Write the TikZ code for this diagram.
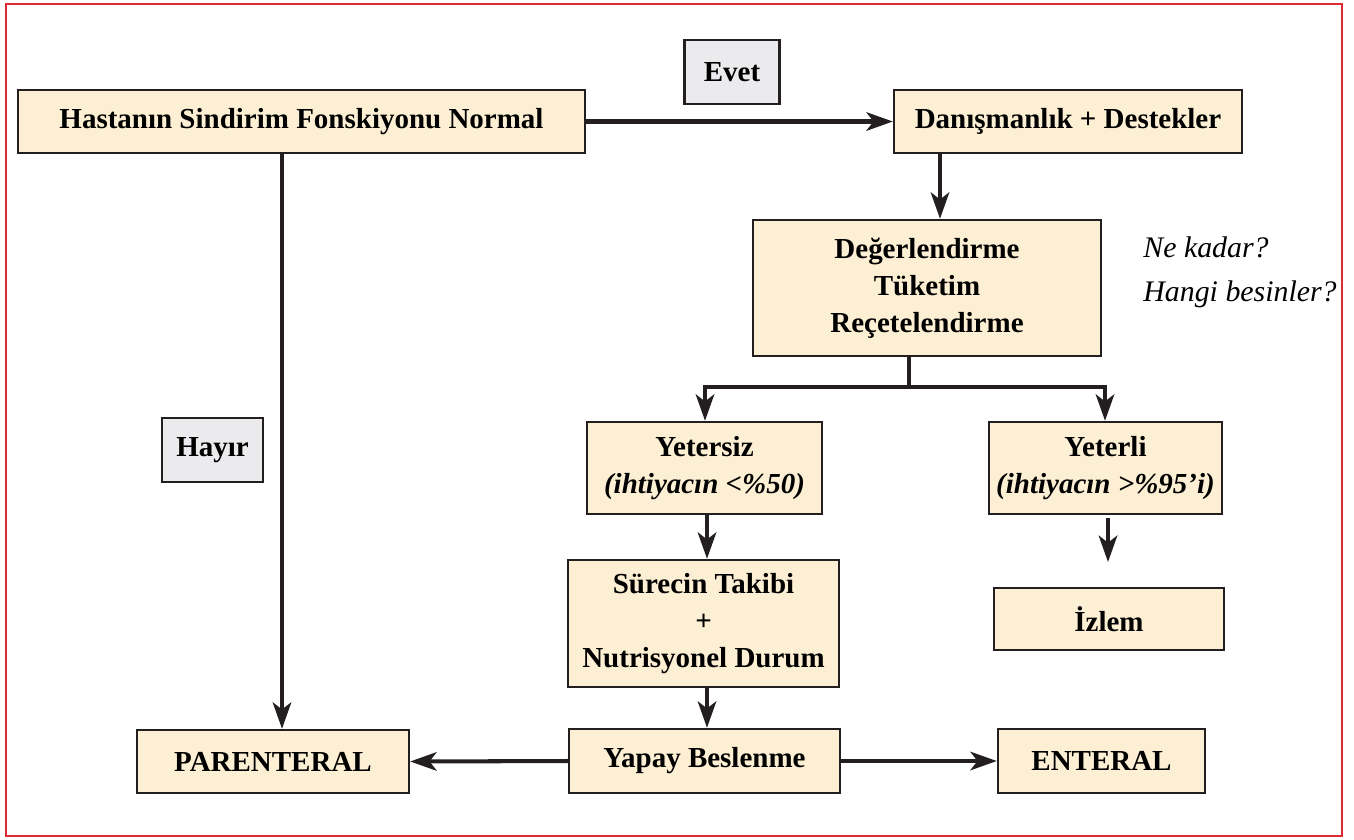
\documentclass[tikz,border=0pt]{standalone}
\usepackage{fontspec}
\setmainfont{Liberation Serif}
\usepackage{tikz}
\usetikzlibrary{arrows.meta}

\definecolor{boxfill}{HTML}{FDEFD3}
\definecolor{tagfill}{HTML}{EBEBEE}
\definecolor{framered}{HTML}{DE2B36}
\definecolor{ink}{HTML}{231F20}

\begin{document}
\begin{tikzpicture}[x=0.02cm, y=-0.02cm,
    box/.style={draw=ink, line width=1.4pt, fill=boxfill, align=center,
      inner sep=0pt, font=\fontsize{16.5}{21}\selectfont\bfseries},
    tag/.style={box, fill=tagfill},
    arr/.style={draw=ink, line width=2.3pt, -{Stealth[length=15pt, width=10.5pt, inset=4pt]}},
    lne/.style={draw=ink, line width=2.3pt}]
          \useasboundingbox (0,0) rectangle (1354,839);
          \draw[framered, line width=1.3pt] (6,4) rectangle (1342,836);

          \node[box, minimum width=11.34cm, minimum height=1.26cm] (normal) at (301.5,121.5) {Hastanın Sindirim Fonskiyonu Normal};
          \node[tag, minimum width=1.9cm, minimum height=1.28cm] (evet) at (732,72) {Evet};
          \node[box, minimum width=6.96cm, minimum height=1.26cm] (destek) at (1068,121.5) {Danışmanlık + Destekler};
          \node[box, minimum width=6.96cm, minimum height=2.72cm] (deger) at (927,288) {Değerlendirme\\Tüketim\\Reçetelendirme};
          \node[align=left, anchor=north west, inner sep=0pt,
            font=\fontsize{17}{25}\selectfont\itshape] (soru) at (1143,236) {Ne kadar?\\Hangi besinler?};
          \node[box, minimum width=4.7cm, minimum height=1.84cm] (yetersiz) at (704.5,468) {Yetersiz\\\textit{(ihtiyacın <\%50)}};
          \node[box, minimum width=4.66cm, minimum height=1.84cm] (yeterli) at (1105.5,468) {Yeterli\\\textit{(ihtiyacın >\%95\char"27 i)}};
          \node[box, minimum width=5.42cm, minimum height=2.54cm] (surec) at (703.5,623.5) {Sürecin Takibi\\+\\Nutrisyonel Durum};
          \node[box, minimum width=4.6cm, minimum height=1.24cm] (izlem) at (1109,619) {İzlem};
          \node[tag, minimum width=2.02cm, minimum height=1.28cm] (hayir) at (212.5,450) {Hayır};
          \node[box, minimum width=5.44cm, minimum height=1.26cm] (parenteral) at (273,761.5) {PARENTERAL};
          \node[box, minimum width=5.42cm, minimum height=1.28cm] (yapay) at (704.5,761) {Yapay Beslenme};
          \node[box, minimum width=4.14cm, minimum height=1.28cm] (enteral) at (1101.5,761) {ENTERAL};

          \coordinate (c1) at (940,0);
          \coordinate (c2) at (909,387);
          \coordinate (c3) at (705,387);
          \coordinate (c4) at (1105,387);
          \coordinate (c5) at (707,0);
          \coordinate (c6) at (282,0);
          \coordinate (y1) at (1108,518);
          \coordinate (y2) at (1108,562);

          \draw[arr] (normal.east) -- (destek.west);
          \draw[arr] (destek.south -| c1) -- (deger.north -| c1);
          \draw[lne] (deger.south -| c2) -- (c2);
          \draw[arr] (c2) -- (c3) -- (yetersiz.north -| c3);
          \draw[arr] (c2) -- (c4) -- (yeterli.north -| c4);
          \draw[arr] (yetersiz.south -| c5) -- (surec.north -| c5);
          \draw[arr] (y1) -- (y2);
          \draw[arr] (surec.south -| c5) -- (yapay.north -| c5);
          \draw[arr] (yapay.west) -- (parenteral.east);
          \draw[arr] (yapay.east) -- (enteral.west);
          \draw[arr] (normal.south -| c6) -- (parenteral.north -| c6);
        \end{tikzpicture}
\end{document}
